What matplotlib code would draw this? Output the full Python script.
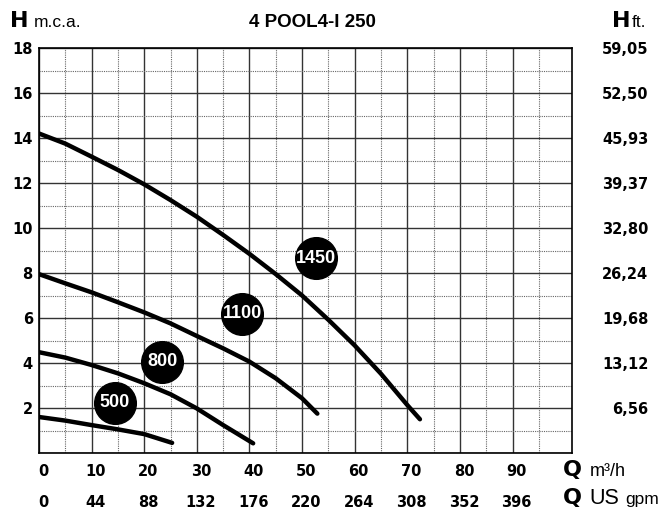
import numpy as np
import matplotlib.pyplot as plt
import matplotlib.transforms as mtransforms

# curves: flow Q (m3/h) and head H (m)
q_1450 = [0, 5, 10, 15, 20, 25, 30, 35, 40, 45, 50, 55, 60, 65, 70, 72.4]
h_1450 = [14.2, 13.75, 13.17, 12.58, 11.94, 11.24, 10.5, 9.69, 8.85, 7.95,
          7.0, 5.92, 4.78, 3.52, 2.13, 1.5]
q_1100 = [0, 5, 10, 15, 20, 25, 30, 35, 40, 45, 50, 52.9]
h_1100 = [7.95, 7.54, 7.14, 6.7, 6.25, 5.76, 5.2, 4.65, 4.06, 3.32, 2.43, 1.75]
q_800 = [0, 5, 10, 15, 20, 25, 30, 35, 40.7]
h_800 = [4.48, 4.24, 3.91, 3.54, 3.1, 2.61, 1.98, 1.24, 0.43]
q_500 = [0, 5, 10, 15, 20, 25.3]
h_500 = [1.6, 1.44, 1.24, 1.05, 0.84, 0.45]

badge_labels = ['1450', '1100', '800', '500']
badge_q = [52.7, 38.6, 23.4, 14.4]
badge_h = [8.65, 6.2, 4.06, 2.24]

q_ticks = [0, 10, 20, 30, 40, 50, 60, 70, 80, 90]
gpm_labels = ['0', '44', '88', '132', '176', '220', '264', '308', '352', '396']
h_ticks = [2, 4, 6, 8, 10, 12, 14, 16, 18]
ft_labels = ['6,56', '13,12', '19,68', '26,24', '32,80', '39,37', '45,93', '52,50', '59,05']

BOLD = 'DejaVu Sans'
PLAIN = 'Liberation Sans'

fig = plt.figure(figsize=(6.72, 5.13), dpi=100)
ax = fig.add_axes([39 / 672, 1 - 453 / 513, 533 / 672, 405 / 513])

ax.set_xlim(0, 101.3)
ax.set_ylim(0, 18)

ax.set_xticks(q_ticks)
ax.set_xticklabels([str(v) for v in q_ticks])
ax.set_xticks(np.arange(5, 100, 10), minor=True)
ax.set_yticks([0] + h_ticks)
ax.set_yticklabels([''] + [str(v) for v in h_ticks])
ax.set_yticks(np.arange(1, 18, 2), minor=True)

ax.grid(which='major', color='#333333', linewidth=1.0)
ax.grid(which='minor', color='#666666', linewidth=0.8, linestyle=(0, (1, 1)))
ax.set_axisbelow(True)
for s in ax.spines.values():
    s.set_color('black')
    s.set_linewidth(1.2)

ax.tick_params(which='both', length=0)
ax.tick_params(axis='x', pad=8)
ax.tick_params(axis='y', pad=4.5)
for lab in ax.get_xticklabels() + ax.get_yticklabels():
    lab.set_fontfamily(BOLD)
    lab.set_fontweight('bold')
    lab.set_fontsize(10.5)
shift = mtransforms.ScaledTranslation(4 / 100, 0, fig.dpi_scale_trans)
for lab in ax.get_xticklabels():
    lab.set_transform(lab.get_transform() + shift)

# US gpm row
sec = ax.secondary_xaxis(-31 / 405)
sec.set_xticks(q_ticks)
sec.set_xticklabels(gpm_labels)
sec.tick_params(length=0, pad=8)
sec.spines['bottom'].set_visible(False)
for lab in sec.get_xticklabels():
    lab.set_fontfamily(BOLD)
    lab.set_fontweight('bold')
    lab.set_fontsize(10.5)
    lab.set_transform(lab.get_transform() + shift)

# feet on the right
ax2 = ax.twinx()
ax2.set_ylim(0, 18)
ax2.set_yticks(h_ticks)
ax2.set_yticklabels(ft_labels)
ax2.tick_params(length=0, pad=55)
for lab in ax2.get_yticklabels():
    lab.set_horizontalalignment('right')
    lab.set_fontfamily(BOLD)
    lab.set_fontweight('bold')
    lab.set_fontsize(10.5)
for s in ax2.spines.values():
    s.set_visible(False)

for q, h in [(q_1450, h_1450), (q_1100, h_1100), (q_800, h_800), (q_500, h_500)]:
    ax.plot(q, h, color='black', linewidth=3.2, solid_capstyle='round',
            solid_joinstyle='round', zorder=3)

for lab, x, y in zip(badge_labels, badge_q, badge_h):
    ax.plot(x, y, 'o', color='black', markersize=30, zorder=4)
    ax.text(x, y, lab, color='white', fontsize=13, fontweight='bold',
            fontfamily=PLAIN, ha='center', va='center', zorder=5)

# header and axis names
fig.text(10 / 672, 1 - 27 / 513, 'H', fontsize=16, fontweight='bold', fontfamily=BOLD)
fig.text(34 / 672, 1 - 27 / 513, 'm.c.a.', fontsize=12.5, fontfamily=PLAIN)
fig.text(312 / 672, 1 - 27 / 513, '4 POOL4-I 250', fontsize=13.5, fontweight='bold',
         fontfamily=PLAIN, ha='center')
fig.text(612 / 672, 1 - 27 / 513, 'H', fontsize=16, fontweight='bold', fontfamily=BOLD)
fig.text(632 / 672, 1 - 27 / 513, 'ft.', fontsize=12.5, fontfamily=PLAIN)

fig.text(563 / 672, 1 - 476 / 513, 'Q', fontsize=16, fontweight='bold', fontfamily=BOLD)
fig.text(590 / 672, 1 - 476 / 513, 'm³/h', fontsize=13, fontfamily=PLAIN)
fig.text(563 / 672, 1 - 504 / 513, 'Q', fontsize=16, fontweight='bold', fontfamily=BOLD)
fig.text(589 / 672, 1 - 504 / 513, 'US', fontsize=15.5, fontfamily=PLAIN)
fig.text(625 / 672, 1 - 504 / 513, 'gpm', fontsize=12.5, fontfamily=PLAIN)

fig.savefig('out.png', dpi=100)
